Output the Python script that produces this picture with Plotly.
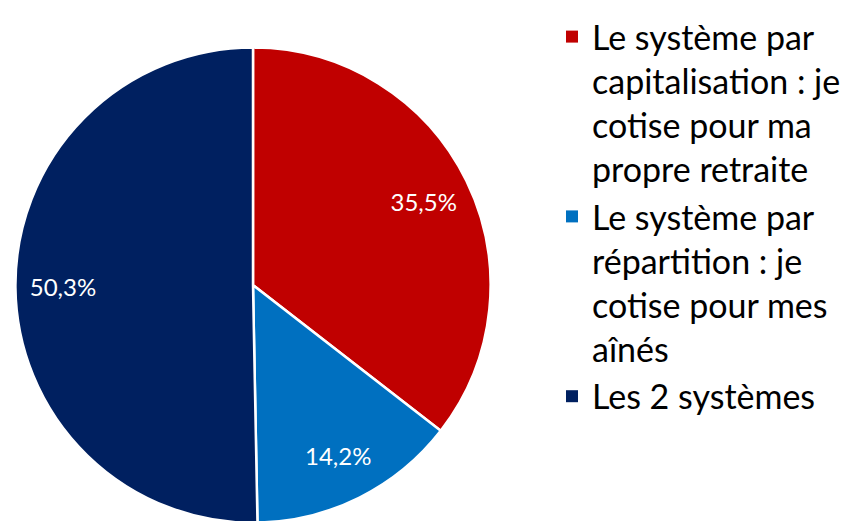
import plotly.graph_objects as go

# données
labels = [
    "Le système par<br>capitalisation : je<br>cotise pour ma<br>propre retraite",
    "Le système par<br>répartition : je<br>cotise pour mes<br>aînés",
    "Les 2 systèmes",
]
values = [35.5, 14.2, 50.3]
colors = ["#C00000", "#0070C0", "#002060"]

pie_domain = dict(x=[6 / 854, 484 / 854], y=[0.012, 0.924])
# tout petit domaine au centre du camembert (caché dessous) : ne sert qu'à la légende
legend_domain = dict(x=[244 / 854, 246 / 854], y=[0.47, 0.475])

fig = go.Figure()

# trace pour la légende (carrés pleins, sans bordure blanche)
fig.add_trace(
    go.Pie(
        labels=labels,
        values=values,
        sort=False,
        direction="clockwise",
        marker=dict(colors=colors, line=dict(width=0)),
        textinfo="none",
        domain=legend_domain,
        hoverinfo="skip",
    )
)

# camembert principal
fig.add_trace(
    go.Pie(
        labels=labels,
        values=values,
        sort=False,
        direction="clockwise",
        rotation=0,
        marker=dict(colors=colors, line=dict(color="white", width=2.5)),
        textinfo="none",
        domain=pie_domain,
        showlegend=False,
        hoverinfo="label+percent",
    )
)

# anneau transparent : sert juste à placer les étiquettes vers l'extérieur
fig.add_trace(
    go.Pie(
        labels=labels,
        values=values,
        sort=False,
        direction="clockwise",
        rotation=0,
        hole=0.6,
        marker=dict(colors=["rgba(0,0,0,0)"] * 3, line=dict(width=0)),
        texttemplate="%{value:.1f}%",
        textposition="inside",
        insidetextorientation="horizontal",
        textfont=dict(family="Lato", size=24, color="white"),
        domain=pie_domain,
        showlegend=False,
        hoverinfo="skip",
    )
)

fig.update_layout(
    width=854,
    height=521,
    margin=dict(l=0, r=0, t=0, b=0),
    separators=", ",
    paper_bgcolor="white",
    plot_bgcolor="white",
    font=dict(family="Lato", color="black"),
    legend=dict(
        x=0.637,
        y=1.0,
        xanchor="left",
        yanchor="top",
        valign="top",
        font=dict(family="Lato", size=34, color="black"),
        tracegroupgap=0,
    ),
)

fig.write_html("out.html")
